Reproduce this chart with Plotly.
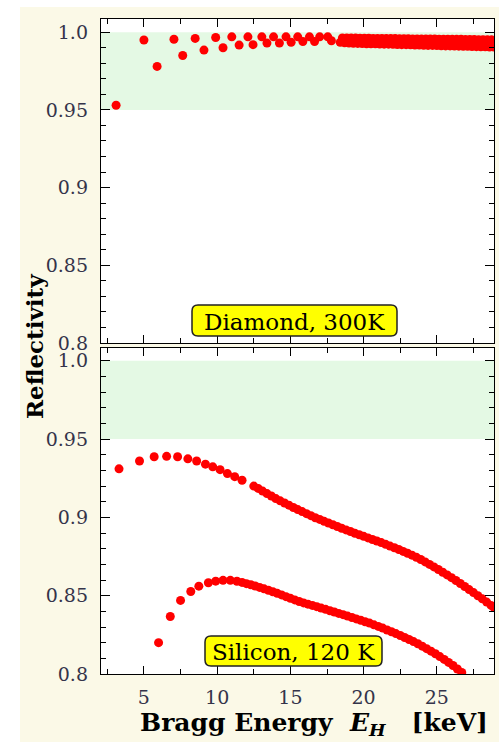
import plotly.graph_objects as go

# ---- data -------------------------------------------------------------
# Diamond (300 K): reflectivity of successive Bragg reflections
diamond_energy = [
    3.1, 5.0, 5.9, 7.05, 7.65, 8.5, 9.1, 9.9, 10.4, 11.0, 11.5, 12.1, 12.45,
    13.05, 13.4, 13.85, 14.25, 14.7, 15.05, 15.5, 15.85, 16.3, 16.65, 17.0,
    17.55, 17.8,
    18.4, 18.55, 18.7, 18.85, 19.0, 19.15, 19.3, 19.45, 19.6, 19.75, 19.9,
    20.05, 20.2, 20.35, 20.5, 20.65, 20.8, 20.95, 21.1, 21.25, 21.4, 21.55,
    21.7, 21.85, 22.0, 22.15, 22.3, 22.45, 22.6, 22.75, 22.9, 23.05, 23.2,
    23.35, 23.5, 23.65, 23.8, 23.95, 24.1, 24.25, 24.4, 24.55, 24.7, 24.85,
    25.0, 25.15, 25.3, 25.45, 25.6, 25.75, 25.9, 26.05, 26.2, 26.35, 26.5,
    26.65, 26.8, 26.95, 27.1, 27.25, 27.4, 27.55, 27.7, 27.85, 28.0, 28.15,
    28.3, 28.45, 28.6, 28.75, 28.9,
]
diamond_refl = [
    0.953, 0.995, 0.978, 0.9955, 0.985, 0.996, 0.9885, 0.9966, 0.990, 0.997,
    0.9917, 0.997, 0.992, 0.997, 0.993, 0.997, 0.993, 0.997, 0.9935, 0.997,
    0.994, 0.997, 0.994, 0.997, 0.997, 0.9945,
    0.9935, 0.9963, 0.9932, 0.9963, 0.9930, 0.9962, 0.9929, 0.9962, 0.9928,
    0.9961, 0.9927, 0.9961, 0.9926, 0.9961, 0.9925, 0.9960, 0.9925, 0.9960,
    0.9924, 0.9960, 0.9923, 0.9959, 0.9923, 0.9959, 0.9922, 0.9959, 0.9921,
    0.9958, 0.9920, 0.9958, 0.9920, 0.9958, 0.9919, 0.9957, 0.9918, 0.9957,
    0.9917, 0.9957, 0.9916, 0.9956, 0.9915, 0.9956, 0.9915, 0.9956, 0.9914,
    0.9955, 0.9913, 0.9955, 0.9912, 0.9955, 0.9912, 0.9954, 0.9911, 0.9954,
    0.9910, 0.9954, 0.9909, 0.9953, 0.9909, 0.9953, 0.9908, 0.9953, 0.9907,
    0.9952, 0.9906, 0.9952, 0.9906, 0.9952, 0.9905, 0.9951, 0.9905,
]

# Silicon (120 K): two branches of reflections
si_upper_energy = [
    3.3, 4.7, 5.7, 6.55, 7.3, 8.0, 8.6, 9.2, 9.7, 10.2, 10.7, 11.2, 11.7,
    12.5, 12.8, 13.1, 13.4, 13.7, 14.0, 14.3, 14.6, 14.9, 15.2, 15.5, 15.8,
    16.1, 16.4, 16.7, 17.0, 17.3, 17.6, 17.9, 18.2, 18.5, 18.8, 19.1, 19.4,
    19.7, 20.0, 20.3, 20.6, 20.9, 21.2, 21.5, 21.8, 22.1, 22.4, 22.7, 23.0,
    23.3, 23.6, 23.9, 24.2, 24.5, 24.8, 25.1, 25.4, 25.7, 26.0, 26.3, 26.6,
    26.9, 27.2, 27.5, 27.8, 28.1, 28.4, 28.7, 28.9,
]
si_upper_refl = [
    0.931, 0.936, 0.9387, 0.939, 0.9387, 0.9374, 0.936, 0.934, 0.9323, 0.9305,
    0.928, 0.926, 0.9237,
    0.920, 0.9185, 0.9168, 0.9152, 0.9137, 0.912, 0.9106, 0.9092, 0.9078,
    0.9063, 0.905, 0.9037, 0.9024, 0.9011, 0.8998, 0.8987, 0.8975, 0.8964,
    0.8953, 0.8942, 0.8931, 0.892, 0.891, 0.8899, 0.8889, 0.8879, 0.8869,
    0.8859, 0.8849, 0.8839, 0.8828, 0.8817, 0.8806, 0.8795, 0.8783, 0.8771,
    0.8759, 0.8745, 0.8731, 0.8716, 0.870, 0.8684, 0.8667, 0.865, 0.8633,
    0.8615, 0.8597, 0.8578, 0.8559, 0.8539, 0.852, 0.850, 0.848, 0.8459,
    0.8438, 0.8425,
]
si_lower_energy = [
    6.0, 6.8, 7.5, 8.2, 8.75, 9.4, 9.9, 10.4, 10.9, 11.35, 11.7, 12.0, 12.3,
    12.6, 12.9, 13.2, 13.5, 13.8, 14.1, 14.4, 14.7, 15.0, 15.3, 15.6, 15.9,
    16.2, 16.5, 16.8, 17.1, 17.4, 17.7, 18.0, 18.3, 18.6, 18.9, 19.2, 19.5,
    19.8, 20.1, 20.4, 20.7, 21.0, 21.3, 21.6, 21.9, 22.2, 22.5, 22.8, 23.1,
    23.4, 23.7, 24.0, 24.3, 24.6, 24.9, 25.2, 25.5, 25.8, 26.1, 26.4, 26.7,
]
si_lower_refl = [
    0.820, 0.8367, 0.847, 0.8527, 0.8561, 0.8583, 0.8593, 0.8598, 0.8598,
    0.8592, 0.8585, 0.8577, 0.857, 0.8562, 0.8553, 0.8544, 0.8535, 0.8525,
    0.8515, 0.8505, 0.8494, 0.8483, 0.8473, 0.8463, 0.8454, 0.8446, 0.8438,
    0.843, 0.8421, 0.8413, 0.8404, 0.8396, 0.8387, 0.8379, 0.837, 0.8361,
    0.8352, 0.8343, 0.8334, 0.8325, 0.8314, 0.8304, 0.8293, 0.8281, 0.827,
    0.8258, 0.8246, 0.8233, 0.822, 0.8207, 0.8193, 0.8178, 0.8162, 0.8146,
    0.8129, 0.8111, 0.8093, 0.8074, 0.8054, 0.8032, 0.801,
]

y_tick_vals = [0.8, 0.85, 0.9, 0.95, 1.0]
y_tick_text = ["0.8", "0.85", "0.9", "0.95", "1.0"]
x_tick_vals = [5, 10, 15, 20, 25]
target_band = [0.95, 1.0]
panel_labels = ["Diamond, 300K", "Silicon, 120 K"]

# ---- geometry ---------------------------------------------------------
W, H = 499, 742
ML, MR, MT, MB = 101, 5, 19, 68
PW, PH = W - ML - MR, H - MT - MB


def px_x(x):
    return (x - ML) / PW


def px_y(y):
    return (H - MB - y) / PH


SERIF = "DejaVu Serif"
RED = "#ff0000"
CREAM = "#fbf9e7"
GREEN = "#e4f9e4"
TICK_COLOR = "#34344a"

fig = go.Figure()

marker = dict(color=RED, size=9, symbol="circle", line=dict(width=0))
fig.add_trace(go.Scatter(x=diamond_energy, y=diamond_refl, mode="markers",
                         marker=marker, xaxis="x", yaxis="y",
                         showlegend=False, hoverinfo="x+y"))
fig.add_trace(go.Scatter(x=si_upper_energy, y=si_upper_refl, mode="markers",
                         marker=marker, xaxis="x2", yaxis="y2",
                         showlegend=False, hoverinfo="x+y"))
fig.add_trace(go.Scatter(x=si_lower_energy, y=si_lower_refl, mode="markers",
                         marker=marker, xaxis="x2", yaxis="y2",
                         showlegend=False, hoverinfo="x+y"))

x_range = [2.07, 28.9]
y_range = [0.8, 1.0085]

common_x = dict(
    range=x_range, tickmode="array", tickvals=x_tick_vals,
    ticks="inside", ticklen=8, tickwidth=1.3, tickcolor="black",
    minor=dict(ticks="inside", dtick=2.5, tick0=0, ticklen=5,
               tickwidth=1.2, tickcolor="black"),
    showline=True, linecolor="black", linewidth=1.4, mirror="allticks",
    showgrid=False, zeroline=False,
    tickfont=dict(family=SERIF, size=19, color=TICK_COLOR),
    ticklabelstandoff=6,
)
common_y = dict(
    range=y_range, tickmode="array", tickvals=y_tick_vals,
    ticktext=y_tick_text,
    ticks="inside", ticklen=9, tickwidth=1.3, tickcolor="black",
    minor=dict(ticks="inside", dtick=0.01, tick0=0.8, ticklen=5,
               tickwidth=1.2, tickcolor="black"),
    showline=True, linecolor="black", linewidth=1.4, mirror="allticks",
    showgrid=False, zeroline=False,
    tickfont=dict(family=SERIF, size=19, color=TICK_COLOR),
    ticklabelstandoff=8,
)

top_bottom = px_y(343)
bot_top = px_y(347.5)

fig.update_layout(
    width=W, height=H,
    margin=dict(l=ML, r=MR, t=MT, b=MB),
    paper_bgcolor=CREAM,
    plot_bgcolor="white",
    xaxis=dict(common_x, anchor="y", domain=[0, 1], showticklabels=False,
               matches="x2"),
    yaxis=dict(common_y, anchor="x", domain=[top_bottom, 1]),
    xaxis2=dict(common_x, anchor="y2", domain=[0, 1]),
    yaxis2=dict(common_y, anchor="x2", domain=[0, bot_top]),
)

shapes = []
# target reflectivity band in both panels
for xr, yr in (("x domain", "y"), ("x2 domain", "y2")):
    shapes.append(dict(type="rect", xref=xr, yref=yr, x0=0, x1=1,
                       y0=target_band[0], y1=target_band[1],
                       fillcolor=GREEN, line=dict(width=0), layer="below"))
# white page strips along the top and left edges
shapes.append(dict(type="rect", xref="paper", yref="paper",
                   x0=px_x(-5), x1=px_x(W + 5), y0=px_y(7), y1=px_y(-5),
                   fillcolor="white", line=dict(width=0), layer="below"))
shapes.append(dict(type="rect", xref="paper", yref="paper",
                   x0=px_x(-5), x1=px_x(20), y0=px_y(H + 5), y1=px_y(-5),
                   fillcolor="white", line=dict(width=0), layer="below"))


def rounded_box(cx, cy, hw, hh, r):
    path = (f"M {-hw + r},{-hh} L {hw - r},{-hh} Q {hw},{-hh} {hw},{-hh + r} "
            f"L {hw},{hh - r} Q {hw},{hh} {hw - r},{hh} "
            f"L {-hw + r},{hh} Q {-hw},{hh} {-hw},{hh - r} "
            f"L {-hw},{-hh + r} Q {-hw},{-hh} {-hw + r},{-hh} Z")
    return dict(type="path", xref="paper", yref="paper",
                xsizemode="pixel", ysizemode="pixel",
                xanchor=px_x(cx), yanchor=px_y(cy), path=path,
                fillcolor="#ffff00", line=dict(color="#222222", width=1.5),
                layer="above")


label_boxes = [(294.5, 320.5, 102.5, 15.5), (293.5, 651, 88.5, 15)]
for (cx, cy, hw, hh) in label_boxes:
    shapes.append(rounded_box(cx, cy, hw, hh, 6))

annotations = []
for (cx, cy, hw, hh), text in zip(label_boxes, panel_labels):
    annotations.append(dict(text=text, xref="paper", yref="paper",
                            x=px_x(cx), y=px_y(cy + 1), xanchor="center",
                            yanchor="middle", showarrow=False,
                            font=dict(family=SERIF, size=23, color="black")))

annotations.append(dict(text="<b>Reflectivity</b>", xref="paper",
                        yref="paper", x=px_x(34), y=px_y(347),
                        xanchor="center", yanchor="middle", textangle=-90,
                        showarrow=False,
                        font=dict(family=SERIF, size=23, color="black")))
annotations.append(dict(
    text=("<b>Bragg Energy\u00a0\u00a0<i>E</i><sub><i>H</i></sub>"
          "\u00a0\u00a0\u00a0[keV]</b>"),
    xref="paper", yref="paper", x=px_x(313.5), y=px_y(724),
    xanchor="center", yanchor="middle", showarrow=False,
    font=dict(family=SERIF, size=25, color="black")))

fig.update_layout(shapes=shapes, annotations=annotations)

fig.write_html("out.html")
